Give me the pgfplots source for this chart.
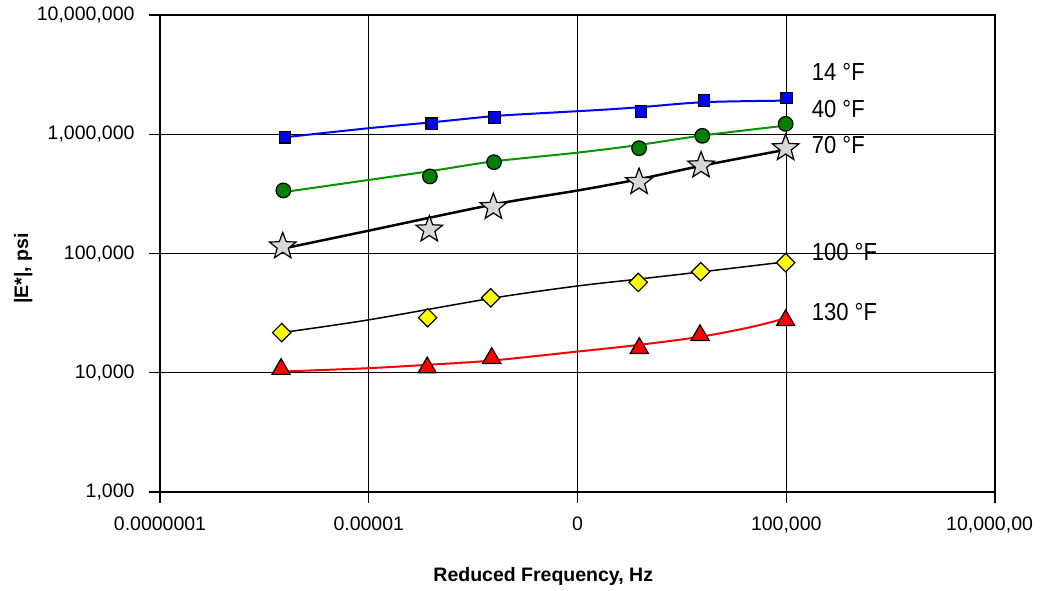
\documentclass[border=0pt]{standalone}
\usepackage{pgfplots}
\pgfplotsset{compat=1.18}
\usepackage{fontspec}
\setmainfont{Liberation Sans}
\definecolor{mblue}{RGB}{0,0,255}
\definecolor{mgreen}{RGB}{0,128,0}
\definecolor{lgreen}{RGB}{0,150,0}
\definecolor{mgray}{RGB}{215,215,215}
\definecolor{myellow}{RGB}{255,255,0}
\definecolor{mred}{RGB}{255,0,0}
\pgfdeclareplotmark{fstar}{%
  \pgfpathmoveto{\pgfqpointpolar{90}{\pgfplotmarksize}}%
  \pgfpathlineto{\pgfqpointpolar{126}{0.42\pgfplotmarksize}}%
  \pgfpathlineto{\pgfqpointpolar{162}{\pgfplotmarksize}}%
  \pgfpathlineto{\pgfqpointpolar{198}{0.42\pgfplotmarksize}}%
  \pgfpathlineto{\pgfqpointpolar{234}{\pgfplotmarksize}}%
  \pgfpathlineto{\pgfqpointpolar{270}{0.42\pgfplotmarksize}}%
  \pgfpathlineto{\pgfqpointpolar{306}{\pgfplotmarksize}}%
  \pgfpathlineto{\pgfqpointpolar{342}{0.42\pgfplotmarksize}}%
  \pgfpathlineto{\pgfqpointpolar{18}{\pgfplotmarksize}}%
  \pgfpathlineto{\pgfqpointpolar{54}{0.42\pgfplotmarksize}}%
  \pgfpathclose
  \pgfusepathqfillstroke}
\begin{document}
\begin{tikzpicture}
\path[use as bounding box] (0,0) rectangle (1044pt,590pt);
\begin{axis}[
  at={(160pt,98pt)}, anchor=south west,
  width=835pt, height=477pt, scale only axis,
  xmin=0, xmax=4, ymode=log, ymin=1000, ymax=10000000,
  xtick={0,1,2,3,4},
  xticklabels={0.0000001,0.00001,0,{100,000},{10,000,00\phantom{0}}},
  ytick={1000,10000,100000,1000000,10000000},
  yticklabels={{1,000},{10,000},{100,000},{1,000,000},{10,000,000}},
  xminorticks=false, yminorticks=false,
  tick pos=left,
  grid=major, major grid style={black, line width=1.2pt},
  axis line style={black, line width=1.2pt},
  tick style={black, line width=1.2pt},
  tick align=outside, major tick length=11pt,
  ticklabel style={font=\fontsize{19.5}{22}\selectfont},
  xticklabel style={yshift=-10pt},
  yticklabel style={xshift=-11pt},
  xlabel={Reduced Frequency, Hz},
  ylabel={|E*|, psi},
  every axis x label/.style={at={(rel axis cs:0.459,-0.178)}, anchor=center, font=\bfseries\fontsize{19.5}{22}\selectfont},
  every axis y label/.style={at={(rel axis cs:-0.1637,0.469)}, rotate=90, anchor=center, font=\bfseries\fontsize{19.5}{22}\selectfont},
  clip=false,
]
% fitted curves
\addplot[mblue, line width=2pt, smooth, no markers] coordinates {
 (0.599,944000) (0.996,1122000) (1.303,1260000) (1.600,1420000) (1.820,1499000)
 (2.108,1600000) (2.304,1688000) (2.606,1858000) (2.999,1914000)};
\addplot[lgreen, line width=2pt, smooth, no markers] coordinates {
 (0.591,327000) (0.996,413000) (1.295,490500) (1.595,591000) (1.996,700000)
 (2.292,812000) (2.596,975000) (2.999,1182000)};
\addplot[black, line width=2.5pt, smooth, no markers] coordinates {
 (0.592,110200) (0.996,154900) (1.595,257000) (1.996,336500) (2.292,418800)
 (2.592,543300) (2.997,741300)};
\addplot[black, line width=1.5pt, smooth, no markers] coordinates {
 (0.583,21700) (0.996,27700) (1.588,42100) (1.996,53300) (2.292,61000)
 (2.592,70100) (2.997,85100)};
\addplot[mred, line width=2pt, smooth, no markers] coordinates {
 (0.583,10230) (0.996,10920) (1.280,11650) (1.588,12650) (1.996,15030)
 (2.292,17110) (2.592,20080) (2.826,24060) (2.997,28620)};
% data points
\addplot[draw=none, mark=square*, mark size=5.8pt, mark options={fill=mblue, draw=black, line width=1.2pt}] coordinates {
 (0.599,944000) (1.302,1222000) (1.601,1387000) (2.304,1557000) (2.606,1914000) (3.002,2015000)};
\addplot[draw=none, mark=*, mark size=7.3pt, mark options={fill=mgreen, draw=black, line width=1.2pt}] coordinates {
 (0.591,338000) (1.293,443000) (1.600,583000) (2.295,764000) (2.598,970000) (2.997,1222000)};
\addplot[draw=none, mark=fstar, mark size=14pt, mark options={fill=mgray, draw=black, line width=1.2pt}] coordinates {
 (0.588,114700) (1.290,158800) (1.597,245000) (2.295,397000) (2.592,547000) (2.997,764000)};
\addplot[draw=none, mark=square*, mark size=6.5pt, mark options={rotate=45, fill=myellow, draw=black, line width=1.2pt}] coordinates {
 (0.583,21700) (1.282,28950) (1.584,42500) (2.291,57200) (2.590,70400) (2.997,83800)};
\addplot[draw=none, mark=triangle*, mark size=10.5pt, mark options={fill=mred, draw=black, line width=1.2pt}] coordinates {
 (0.580,10720) (1.280,11050) (1.589,13250) (2.296,16060) (2.587,20620) (2.997,27520)};
% temperature labels
\tikzset{templbl/.style={anchor=west, inner sep=0pt, yscale=1.12, transform shape, font=\fontsize{22}{26}\selectfont}}
\node[templbl] at (rel axis cs:0.7805,0.881) {14 °F};
\node[templbl] at (rel axis cs:0.7805,0.803) {40 °F};
\node[templbl] at (rel axis cs:0.7805,0.727) {70 °F};
\node[templbl] at (rel axis cs:0.7805,0.504) {100 °F};
\node[templbl] at (rel axis cs:0.7805,0.378) {130 °F};
\end{axis}
\end{tikzpicture}
\end{document}
